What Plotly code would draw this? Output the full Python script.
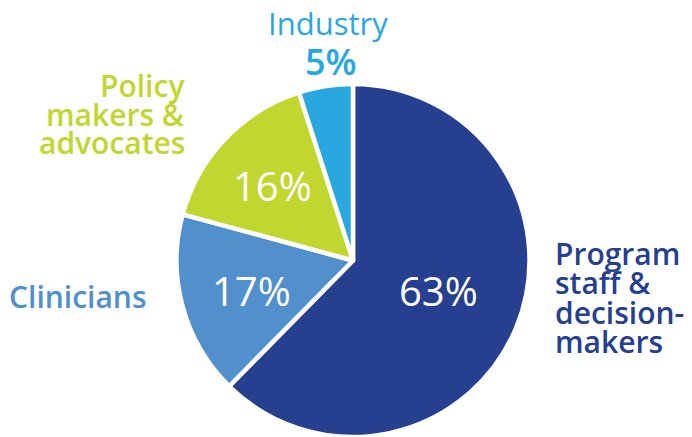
import plotly.graph_objects as go

labels = ["Program staff & decision-makers", "Clinicians", "Policy makers & advocates", "Industry"]
values = [63, 17, 16, 5]
colors = ["#263f8e", "#5190cd", "#c1d62f", "#29a7df"]

W, H = 692, 437

def px(x):
    return x / W

def py(y):
    return 1 - y / H

FONT = "Open Sans"
R = 176.5

fig = go.Figure(go.Pie(
    labels=labels, values=values, sort=False, direction="clockwise", rotation=0,
    marker=dict(colors=colors, line=dict(color="white", width=4.5)),
    textinfo="none", hoverinfo="label+percent", showlegend=False,
    domain=dict(x=[(353 - R) / W, (353 + R) / W], y=[0, 2 * R / H]),
))

ann = []
def add(text, x, y, size, color, xanchor="center", weight="normal"):
    ann.append(dict(text=text, x=px(x), y=py(y), xref="paper", yref="paper",
                    xanchor=xanchor, yanchor="middle", showarrow=False,
                    font=dict(family=FONT, size=size, color=color, weight=weight)))

# inside percentages
add(f"{values[0]}%", 438, 290, 40, "white")
add(f"{values[1]}%", 251, 290, 40, "white")
add(f"{values[2]}%", 272, 185, 40, "white")

# outside labels
add("Industry", 328, 23, 31, colors[3])
add(f"{values[3]}%", 331, 62, 36, colors[3], weight=600)

for i, line in enumerate(["Policy", "makers &", "advocates"]):
    add(line, 187, 85 + 29 * i, 30, colors[2], xanchor="right", weight=600)

add("Clinicians", 7, 296, 30, colors[1], xanchor="left", weight=600)

for i, line in enumerate(["Program", "staff &", "decision-", "makers"]):
    add(line, 553, 253 + 29.5 * i, 30, colors[0], xanchor="left", weight=600)

fig.update_layout(width=W, height=H, margin=dict(l=0, r=0, t=0, b=0),
                  paper_bgcolor="white", plot_bgcolor="white", annotations=ann)

fig.write_html("out.html")
